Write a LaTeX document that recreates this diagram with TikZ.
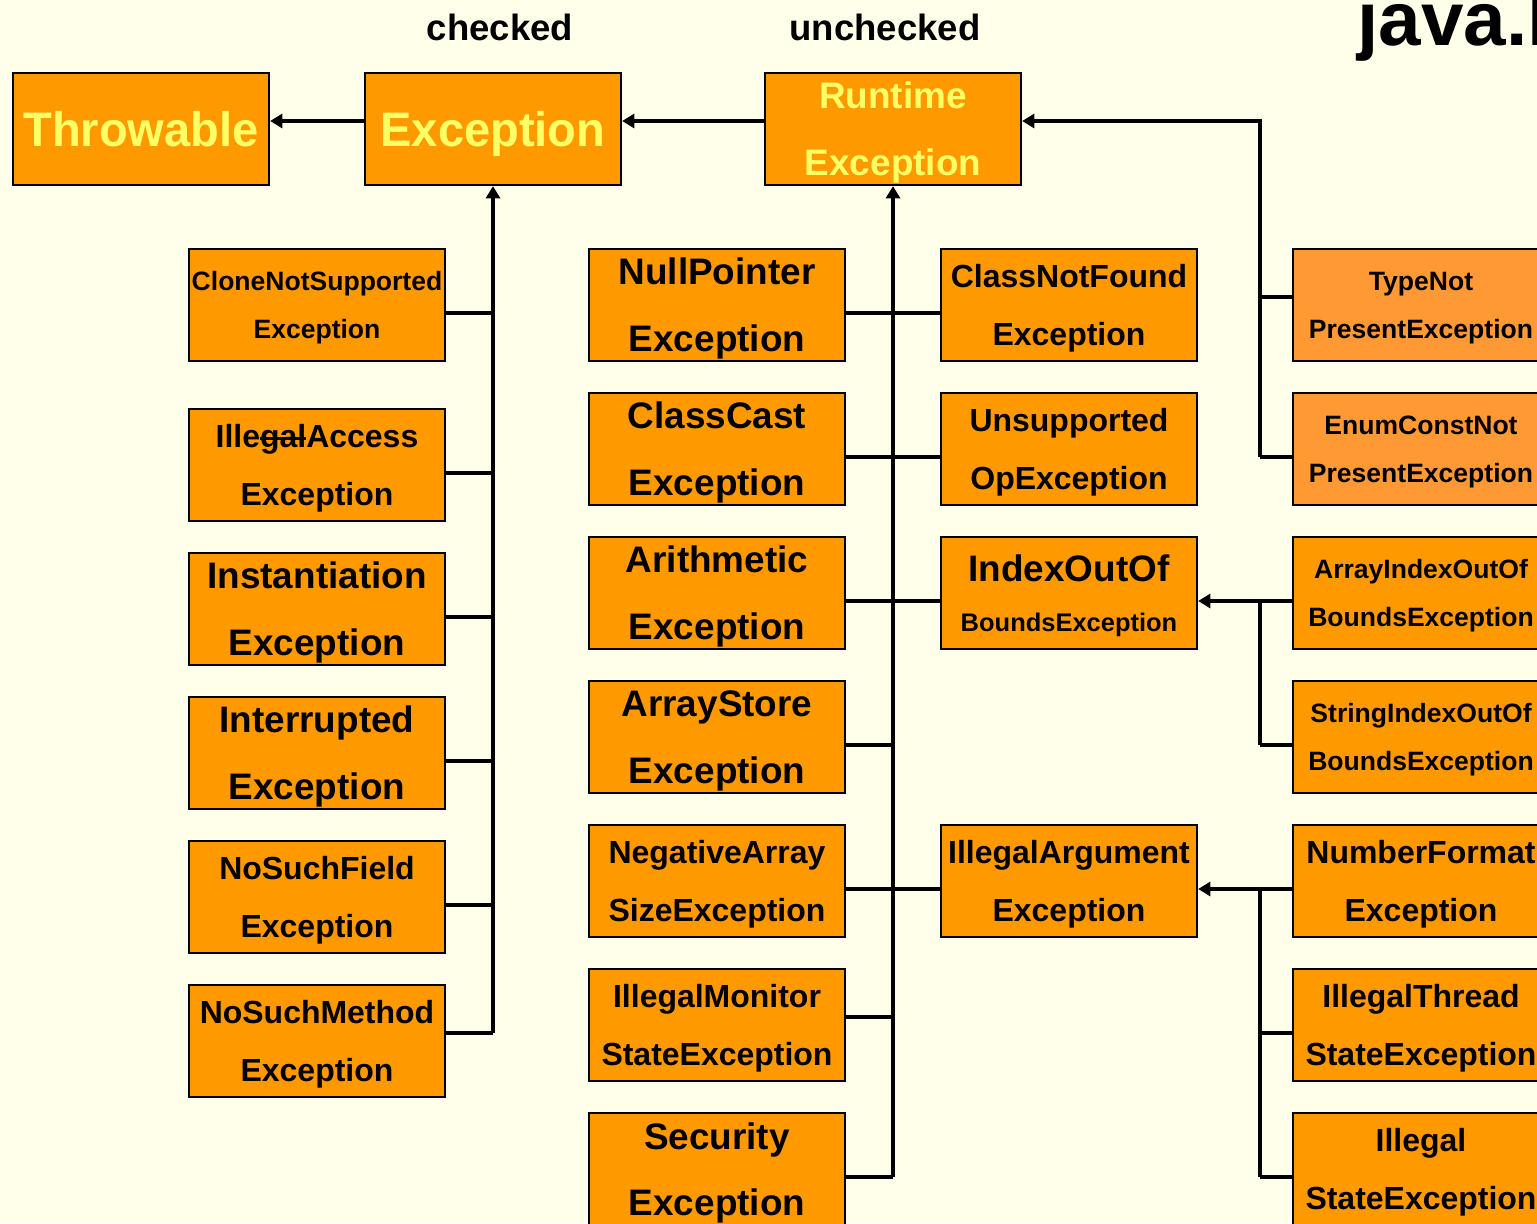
\documentclass[tikz,border=0pt]{standalone}
\usepackage{fontspec}
\setmainfont{Liberation Sans}
\newfontfamily\narrowsans{Liberation Sans}[FakeStretch=0.97]
\newcommand\strikeout[1]{\setbox0\hbox{#1}\rlap{\rule[0.24em]{\wd0}{1.6pt}}\box0}
\usetikzlibrary{arrows.meta,calc}
\definecolor{paper}{HTML}{FFFFEA}
\definecolor{exorange}{HTML}{FF9900}
\definecolor{exlight}{HTML}{FF9933}
\definecolor{exyellow}{HTML}{FFFF66}
\tikzset{
  exbox/.style={draw, line width=1.3pt, fill=exorange, minimum width=5.12cm,
    minimum height=2.24cm, inner sep=0pt, align=center, text depth=0pt},
  big/.style={font=\narrowsans\bfseries\fontsize{27.6}{34}\selectfont, text=exyellow},
  lg/.style={font=\bfseries\fontsize{21}{38}\selectfont},
  md/.style={font=\bfseries\fontsize{18.2}{33}\selectfont},
  sm/.style={font=\bfseries\fontsize{15.1}{27.3}\selectfont},
  link/.style={line width=2.3pt},
  isa/.style={link, -{Triangle[width=8pt,length=7pt]}},
}
\begin{document}
\begin{tikzpicture}[x=0.02cm, y=-0.02cm]
  \useasboundingbox (0,0) rectangle (1537,1223);
  \clip (0,0) rectangle (1537,1223);
  \fill[paper] (0,0) rectangle (1537,1223);

  \node[font=\bfseries\fontsize{20.8}{24}\selectfont] (chk) at (500,27) {checked};
  \node[font=\bfseries\fontsize{20.8}{24}\selectfont] (unchk) at (885,27) {unchecked};
  \node[anchor=base west, inner sep=0pt, font=\bfseries\fontsize{43.5}{50}\selectfont] (pkg) at (1357,46) {java.lang};

  \node[exbox, big] (thr) at (141,129) {Throwable};
  \node[exbox, big] (exc) at (493,129) {Exception};
  \node[exbox, lg, text=exyellow] (rte) at (893,129) {Runtime\\Exception};

  \node[exbox, sm] (clone) at (317,305) {CloneNotSupported\\Exception};
  \node[exbox, md] (iacc) at (317,465) {Ille\strikeout{gal}Access\\Exception};
  \node[exbox, lg] (inst) at (317,609) {Instantiation\\Exception};
  \node[exbox, lg] (intr) at (317,753) {Interrupted\\Exception};
  \node[exbox, md] (nsf) at (317,897) {NoSuchField\\Exception};
  \node[exbox, md] (nsm) at (317,1041) {NoSuchMethod\\Exception};

  \node[exbox, lg] (npe) at (717,305) {NullPointer\\Exception};
  \node[exbox, lg] (cce) at (717,449) {ClassCast\\Exception};
  \node[exbox, lg] (ari) at (717,593) {Arithmetic\\Exception};
  \node[exbox, lg] (ase) at (717,737) {ArrayStore\\Exception};
  \node[exbox, md] (nas) at (717,881) {NegativeArray\\SizeException};
  \node[exbox, md] (ims) at (717,1025) {IllegalMonitor\\StateException};
  \node[exbox, lg] (sec) at (717,1169) {Security\\Exception};

  \node[exbox, md] (cnf) at (1069,305) {ClassNotFound\\Exception};
  \node[exbox, md] (uoe) at (1069,449) {Unsupported\\OpException};
  \node[exbox, md] (ioob) at (1069,593)
    {\fontsize{21}{25}\selectfont IndexOutOf\\[-4.5pt]\fontsize{14.5}{17}\selectfont BoundsException};
  \node[exbox, md] (iae) at (1069,881) {IllegalArgument\\Exception};

  \node[exbox, sm, fill=exlight] (tnp) at (1421,305) {TypeNot\\PresentException};
  \node[exbox, sm, fill=exlight] (ecnp) at (1421,449) {EnumConstNot\\PresentException};
  \node[exbox, sm] (aioob) at (1421,593) {ArrayIndexOutOf\\BoundsException};
  \node[exbox, sm] (sioob) at (1421,737) {StringIndexOutOf\\BoundsException};
  \node[exbox, md] (nfe) at (1421,881) {NumberFormat\\Exception};
  \node[exbox, md] (itse) at (1421,1025) {IllegalThread\\StateException};
  \node[exbox, md] (ise) at (1421,1169) {Illegal\\StateException};

  \draw[isa] ($(exc.west)+(0,-8)$) -- ($(thr.east)+(0,-8)$);
  \draw[isa] ($(rte.west)+(0,-8)$) -- ($(exc.east)+(0,-8)$);

  \draw[isa] ($(nsm.east -| exc.south)+(0,-8)$) -- (exc.south);
  \foreach \n/\d in {clone/8, iacc/8, inst/8, intr/8, nsf/8, nsm/-8}
    \draw[link] ($(\n.east)+(0,\d)$) -- ($(\n.east -| exc.south)+(0,\d)$);

  \draw[isa] ($(sec.east -| rte.south)+(0,8)$) -- (rte.south);
  \foreach \n/\d in {npe/8, cce/8, ari/8, ase/8, nas/8, ims/-8, sec/8}
    \draw[link] ($(\n.east)+(0,\d)$) -- ($(\n.east -| rte.south)+(0,\d)$);
  \foreach \n/\d in {cnf/8, uoe/8, ioob/8, iae/8}
    \draw[link] ($(\n.west)+(0,\d)$) -- ($(\n.west -| rte.south)+(0,\d)$);

  \draw[isa] ($(ecnp.west)+(-32,8)$) |- ($(rte.east)+(0,-8)$);
  \draw[link] ($(ecnp.west)+(0,8)$) -- ++(-32,0);
  \draw[link] ($(tnp.west)+(0,-8)$) -- ++(-32,0);

  \draw[isa] ($(sioob.west)+(-32,8)$) |- ($(ioob.east)+(0,8)$);
  \draw[link] ($(sioob.west)+(0,8)$) -- ++(-32,0);
  \draw[link] ($(aioob.west)+(0,8)$) -- ++(-32,0);

  \draw[isa] ($(ise.west)+(-32,8)$) |- ($(iae.east)+(0,8)$);
  \draw[link] ($(ise.west)+(0,8)$) -- ++(-32,0);
  \draw[link] ($(itse.west)+(0,8)$) -- ++(-32,0);
  \draw[link] ($(nfe.west)+(0,8)$) -- ++(-32,0);
\end{tikzpicture}
\end{document}
